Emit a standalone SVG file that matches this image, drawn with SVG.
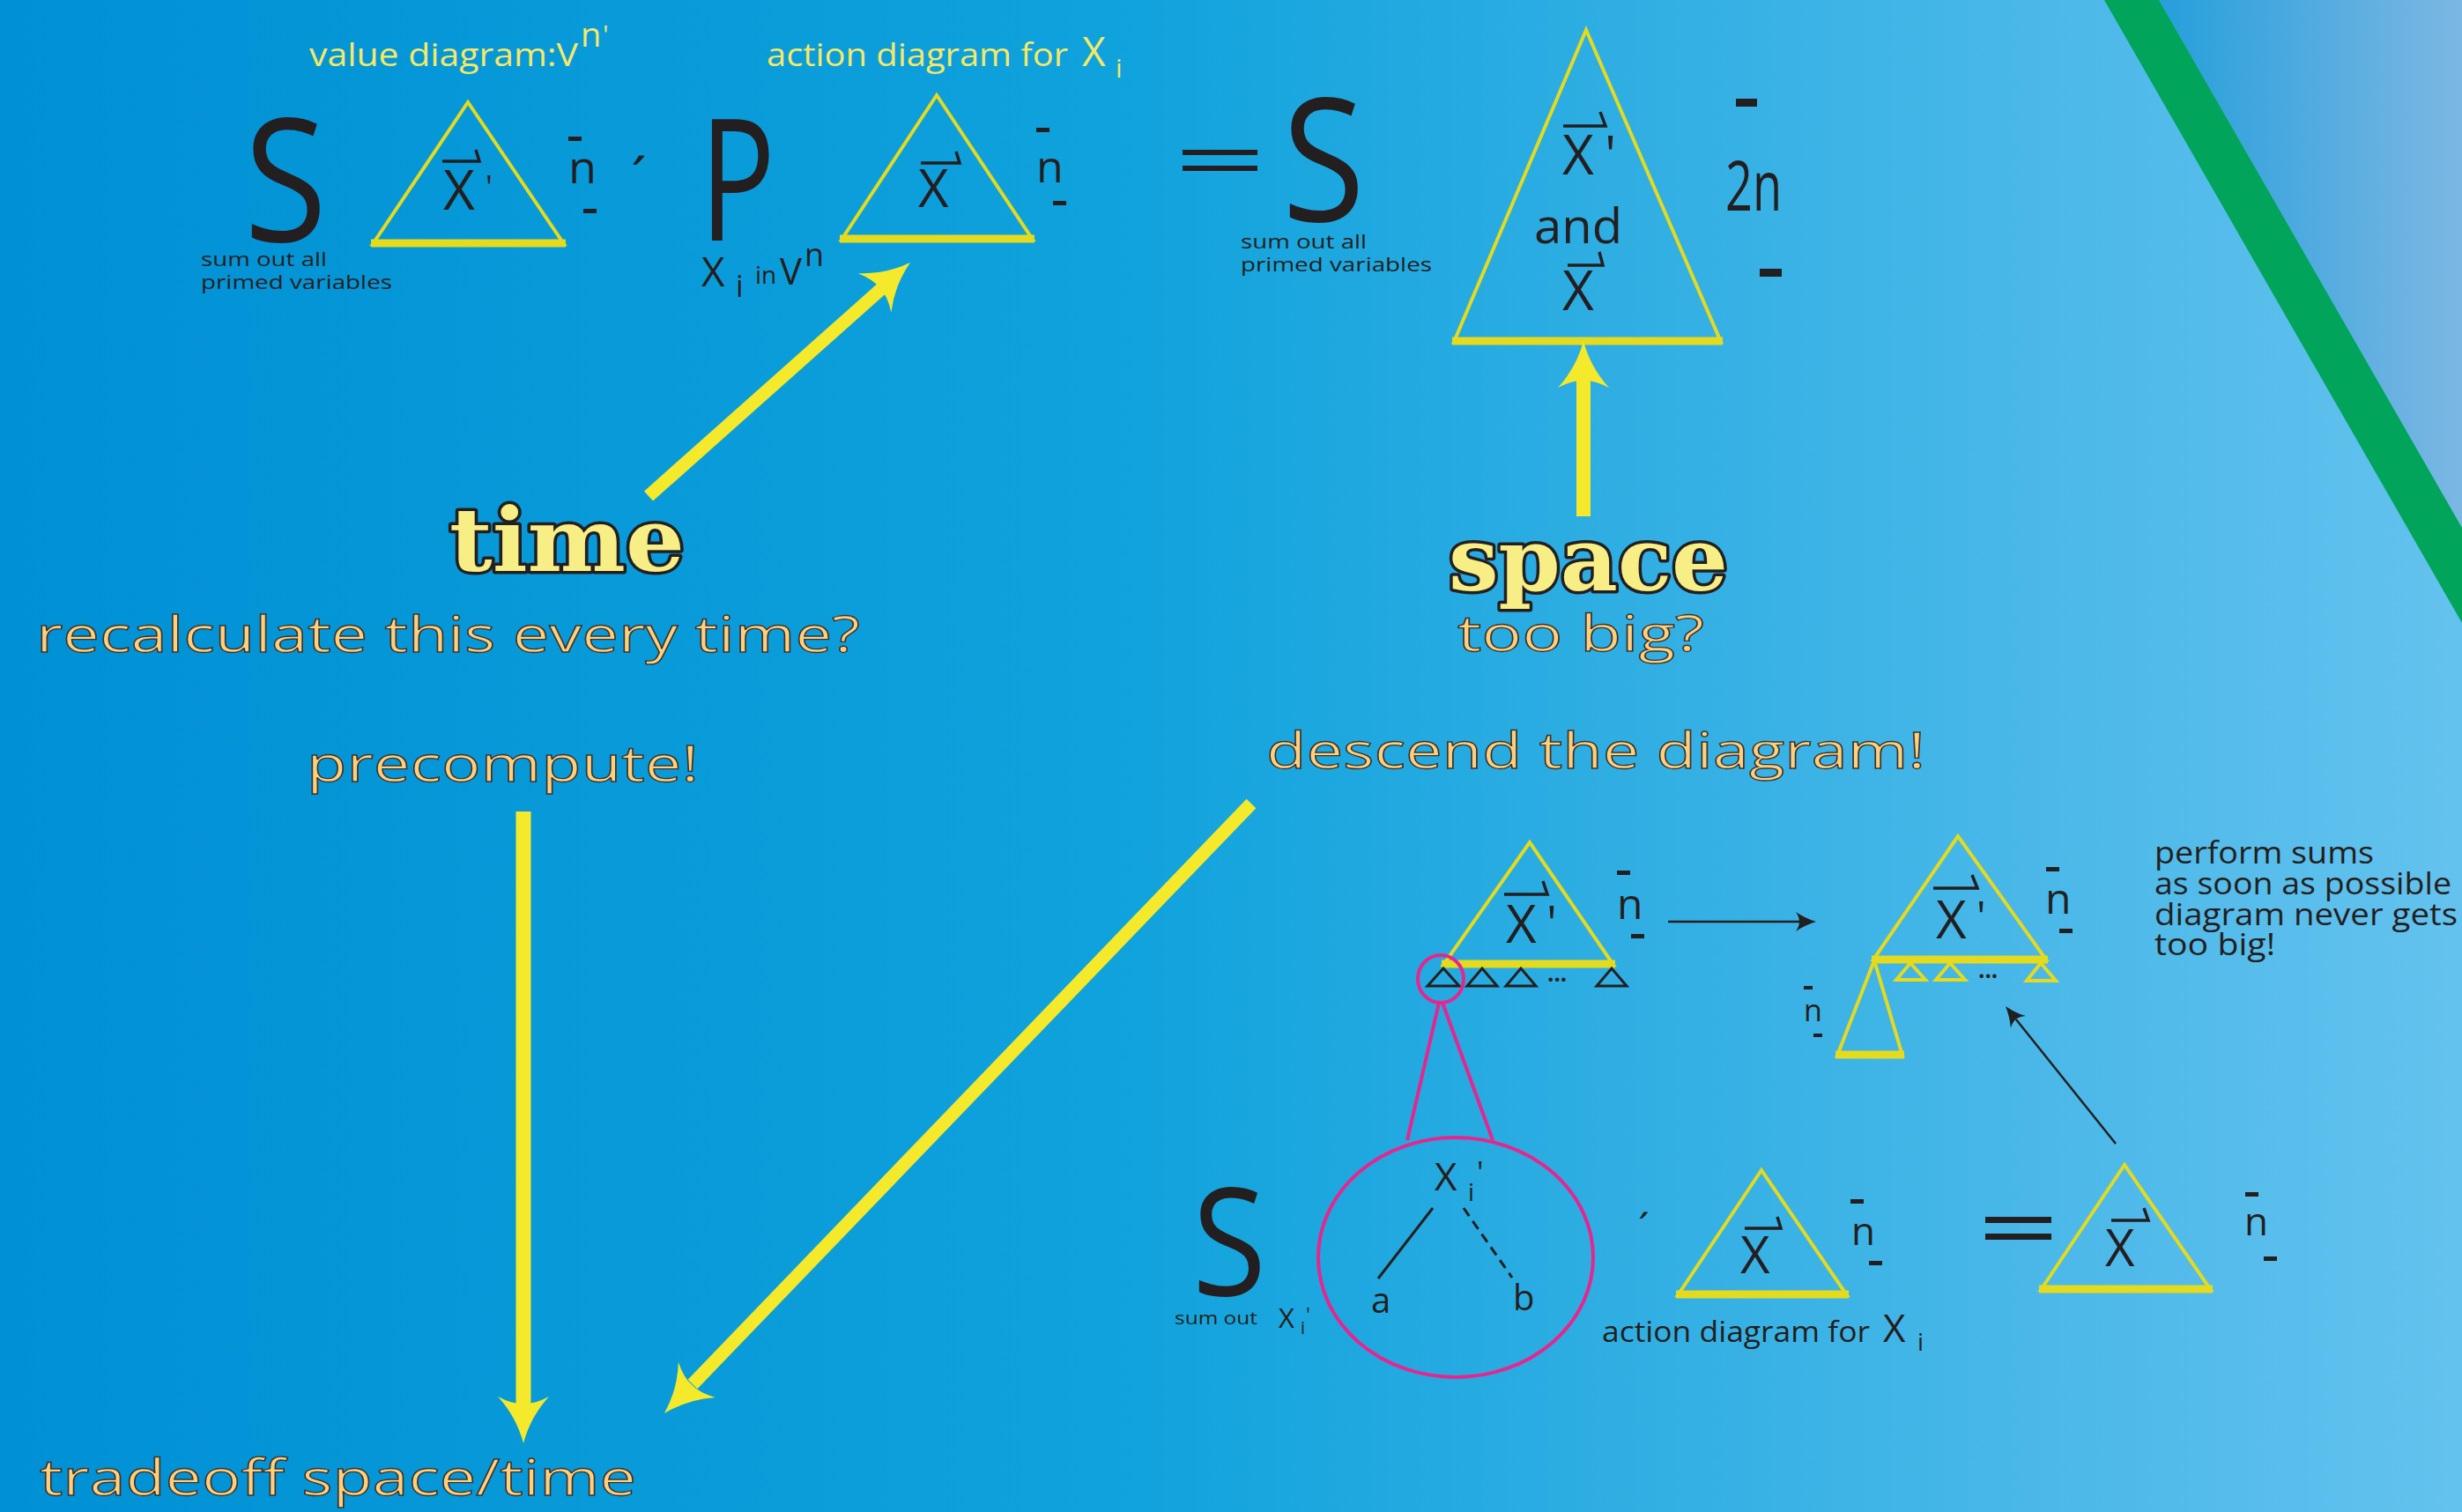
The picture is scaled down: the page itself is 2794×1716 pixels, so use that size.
<svg xmlns="http://www.w3.org/2000/svg" xmlns:xlink="http://www.w3.org/1999/xlink" width="2794" height="1716" viewBox="0 0 2794 1716">
<defs>
<linearGradient id="bg" x1="0" y1="0" x2="2794" y2="0" gradientUnits="userSpaceOnUse">
<stop offset="0" stop-color="#0090d5"/>
<stop offset="0.45" stop-color="#0fa2dc"/>
<stop offset="1" stop-color="#64c2ee"/>
</linearGradient>
<linearGradient id="corner" x1="2450" y1="0" x2="2794" y2="0" gradientUnits="userSpaceOnUse">
<stop offset="0" stop-color="#259fdb"/>
<stop offset="1" stop-color="#7cb7e3"/>
</linearGradient>
<path id="yhead" d="M0 0 Q-30 -8 -53 -29 Q-44 -12 -45 0 Q-44 12 -53 29 Q-30 8 0 0 Z"/>
<path id="khead" d="M0 0 Q-13 -4 -23 -11 Q-19 -5 -19 0 Q-19 5 -23 11 Q-13 4 0 0 Z"/>
<style>
text{font-family:"Open Sans","Noto Sans","Liberation Sans",sans-serif}
.yl{fill:#f6e866}
.dk{fill:#231f20}
.or{fill:#fdd07c;stroke:#3b3330;stroke-width:1.3}
.big{font-family:"DejaVu Serif","Liberation Serif",serif;font-weight:bold;fill:#f7ee86;stroke:#231f20;stroke-width:7;paint-order:stroke;stroke-linejoin:round}
.tri{fill:none;stroke:#e4da1e;stroke-width:4;stroke-linejoin:miter}
.base{stroke:#e4da1e;stroke-width:9}
.stri{fill:none;stroke:#e4da1e;stroke-width:4}
.ktri{fill:none;stroke:#231f20;stroke-width:3}
.vec{fill:none;stroke:#231f20;stroke-width:3.5}
.bar{fill:#231f20}
.mag{fill:none;stroke:#e8258e;stroke-width:4}
.ya{fill:none;stroke:#f4e92a;stroke-linecap:butt}
.yh{fill:#f4e92a}
.kl{fill:none;stroke:#231f20;stroke-width:2.5}
.kh{fill:#231f20}
</style>
</defs>

<g id="background">
<rect x="0" y="0" width="2794" height="1716" fill="url(#bg)"/>
<polygon points="2450,0 2794,0 2794,599" fill="url(#corner)"/>
<polygon points="2388,0 2450,0 2794,599 2794,707" fill="#00a45a"/>
</g>

<g id="top-labels">
<text class="yl" x="351" y="75" font-size="36" textLength="305" lengthAdjust="spacingAndGlyphs">value diagram:V</text>
<text class="yl" x="659" y="53" font-size="38">n</text>
<text class="yl" x="684" y="50" font-size="30">'</text>
<text class="yl" x="870" y="75" font-size="36" textLength="342" lengthAdjust="spacingAndGlyphs">action diagram for</text>
<text class="yl" x="1228" y="75" font-size="46">X</text>
<text class="yl" x="1266" y="88" font-size="30">i</text>
</g>

<g id="sum1">
<text class="dk" x="277" y="274" font-size="195" textLength="94" lengthAdjust="spacingAndGlyphs">S</text>
<text class="dk" x="228" y="302" font-size="22" textLength="143" lengthAdjust="spacingAndGlyphs">sum out all</text>
<text class="dk" x="228" y="328" font-size="22" textLength="217" lengthAdjust="spacingAndGlyphs">primed variables</text>
</g>

<g id="value-diagram">
<polygon class="tri" points="531,116 423,277 640,277"/>
<line class="base" x1="421" y1="276" x2="642" y2="276"/>
<path class="vec" d="M502 183 H544 L540 170"/>
<text class="dk" x="503" y="238" font-size="62">X</text>
<text class="dk" x="551" y="225" font-size="36">'</text>
<rect class="bar" x="645" y="155" width="15" height="5"/>
<text class="dk" x="645" y="208" font-size="52">n</text>
<rect class="bar" x="662" y="237" width="15" height="5"/>
</g>

<text class="dk" x="716" y="226" font-size="64">´</text>

<g id="product">
<text class="dk" x="794" y="273" font-size="192" textLength="86" lengthAdjust="spacingAndGlyphs">P</text>
<text class="dk" x="796" y="325" font-size="46">X</text>
<text class="dk" x="835" y="337" font-size="34">i</text>
<text class="dk" x="857" y="322" font-size="28">in</text>
<text class="dk" x="885" y="323" font-size="42">V</text>
<text class="dk" x="913" y="302" font-size="36">n</text>
</g>

<g id="action-diagram">
<polygon class="tri" points="1063,108 955,272 1172,272"/>
<line class="base" x1="953" y1="271" x2="1174" y2="271"/>
<path class="vec" d="M1045 185 H1089 L1085 172"/>
<text class="dk" x="1042" y="235" font-size="60">X</text>
<rect class="bar" x="1176" y="145" width="15" height="5"/>
<text class="dk" x="1176" y="207" font-size="50">n</text>
<rect class="bar" x="1195" y="228" width="15" height="5"/>
</g>

<g id="equals1">
<rect class="bar" x="1342" y="170" width="85" height="6"/>
<rect class="bar" x="1342" y="188" width="85" height="6"/>
</g>

<g id="sum2">
<text class="dk" x="1455" y="251" font-size="195" textLength="94" lengthAdjust="spacingAndGlyphs">S</text>
<text class="dk" x="1408" y="282" font-size="22" textLength="143" lengthAdjust="spacingAndGlyphs">sum out all</text>
<text class="dk" x="1408" y="308" font-size="22" textLength="217" lengthAdjust="spacingAndGlyphs">primed variables</text>
</g>

<g id="joint-diagram">
<polygon class="tri" points="1800,34 1650,388 1953,388"/>
<line class="base" x1="1648" y1="387" x2="1955" y2="387"/>
<path class="vec" d="M1774 143 H1822 L1816 127"/>
<text class="dk" x="1773" y="198" font-size="62">X</text>
<text class="dk" x="1821" y="197" font-size="60">'</text>
<text class="dk" x="1741" y="276" font-size="54" textLength="100" lengthAdjust="spacingAndGlyphs">and</text>
<path class="vec" d="M1779 301 H1819 L1815 286"/>
<text class="dk" x="1773" y="352" font-size="62">X</text>
<rect class="bar" x="1970" y="112" width="24" height="9"/>
<text class="dk" x="1958" y="239" font-size="78" textLength="64" lengthAdjust="spacingAndGlyphs">2n</text>
<rect class="bar" x="1997" y="305" width="25" height="9"/>
</g>

<g id="time-label">
<text class="big" x="510" y="648" font-size="100" textLength="267" lengthAdjust="spacingAndGlyphs">time</text>
<text class="or" x="41" y="740" font-size="56" textLength="935" lengthAdjust="spacingAndGlyphs">recalculate this every time?</text>
</g>

<g id="precompute-label">
<text class="or" x="348" y="887" font-size="56" textLength="445" lengthAdjust="spacingAndGlyphs">precompute!</text>
</g>

<g id="space-label">
<text class="big" x="1644" y="670" font-size="100" textLength="317" lengthAdjust="spacingAndGlyphs">space</text>
<text class="or" x="1654" y="739" font-size="56" textLength="280" lengthAdjust="spacingAndGlyphs">too big?</text>
</g>

<g id="descend-label">
<text class="or" x="1437" y="872" font-size="56" textLength="748" lengthAdjust="spacingAndGlyphs">descend the diagram!</text>
</g>

<g id="tradeoff-label">
<text class="or" x="45" y="1697" font-size="56" textLength="677" lengthAdjust="spacingAndGlyphs">tradeoff space/time</text>
</g>

<g id="diagram-a">
<polygon class="tri" points="1736,956 1638,1095 1831,1095"/>
<line class="base" x1="1636" y1="1094" x2="1833" y2="1094"/>
<path class="vec" d="M1707 1015 H1756 L1751 1000"/>
<text class="dk" x="1709" y="1070" font-size="60">X</text>
<text class="dk" x="1755" y="1067" font-size="54">'</text>
<rect class="bar" x="1835" y="988" width="15" height="5"/>
<text class="dk" x="1835" y="1043" font-size="48">n</text>
<rect class="bar" x="1851" y="1060" width="15" height="5"/>
<polygon class="ktri" points="1620,1119 1656,1119 1638,1099"/>
<polygon class="ktri" points="1665,1119 1699,1119 1682,1099"/>
<polygon class="ktri" points="1709,1119 1743,1119 1726,1099"/>
<text class="dk" x="1756" y="1114" font-size="26" font-weight="bold">...</text>
<polygon class="ktri" points="1812,1119 1846,1119 1829,1099"/>
<ellipse class="mag" cx="1635" cy="1111" rx="26" ry="27"/>
</g>

<g id="diagram-d">
<polygon class="tri" points="2222,949 2126,1089 2322,1089"/>
<line class="base" x1="2124" y1="1089" x2="2324" y2="1089"/>
<polygon class="tri" points="2127,1090 2085,1198 2159,1198"/>
<line class="base" x1="2083" y1="1197" x2="2161" y2="1197"/>
<polygon class="stri" points="2152,1112 2185,1112 2168,1093"/>
<polygon class="stri" points="2197,1112 2230,1112 2213,1093"/>
<text class="dk" x="2245" y="1110" font-size="26" font-weight="bold">...</text>
<polygon class="stri" points="2300,1113 2333,1113 2316,1093"/>
<path class="vec" d="M2194 1008 H2244 L2238 993"/>
<text class="dk" x="2197" y="1065" font-size="60">X</text>
<text class="dk" x="2243" y="1057" font-size="48">'</text>
<rect class="bar" x="2322" y="984" width="15" height="5"/>
<text class="dk" x="2321" y="1037" font-size="48">n</text>
<rect class="bar" x="2337" y="1054" width="15" height="5"/>
<rect class="bar" x="2047" y="1119" width="10" height="4"/>
<text class="dk" x="2047" y="1159" font-size="34">n</text>
<rect class="bar" x="2058" y="1173" width="10" height="4"/>
</g>

<g id="note">
<text class="dk" x="2445" y="980" font-size="34" textLength="249" lengthAdjust="spacingAndGlyphs">perform sums</text>
<text class="dk" x="2445" y="1015" font-size="34" textLength="337" lengthAdjust="spacingAndGlyphs">as soon as possible</text>
<text class="dk" x="2445" y="1050" font-size="34" textLength="344" lengthAdjust="spacingAndGlyphs">diagram never gets</text>
<text class="dk" x="2445" y="1084" font-size="34" textLength="137" lengthAdjust="spacingAndGlyphs">too big!</text>
</g>

<g id="sum3">
<text class="dk" x="1353" y="1470" font-size="170" textLength="84" lengthAdjust="spacingAndGlyphs">S</text>
<text class="dk" x="1333" y="1503" font-size="20" textLength="94" lengthAdjust="spacingAndGlyphs">sum out</text>
<text class="dk" x="1451" y="1507" font-size="31">X</text>
<text class="dk" x="1476" y="1514" font-size="20">i</text>
<text class="dk" x="1482" y="1500" font-size="22">'</text>
</g>

<g id="zoom-ellipse">
<ellipse class="mag" cx="1652" cy="1427" rx="156" ry="136"/>
<text class="dk" x="1628" y="1351" font-size="44">X</text>
<text class="dk" x="1666" y="1363" font-size="28">i</text>
<text class="dk" x="1676" y="1343" font-size="34">'</text>
<line x1="1626" y1="1371" x2="1564" y2="1451" stroke="#231f20" stroke-width="3"/>
<line x1="1661" y1="1371" x2="1716" y2="1450" stroke="#231f20" stroke-width="3" stroke-dasharray="11 7"/>
<text class="dk" x="1556" y="1490" font-size="40">a</text>
<text class="dk" x="1717" y="1487" font-size="40">b</text>
</g>

<text class="dk" x="1859" y="1411" font-size="46">´</text>

<g id="diagram-b">
<polygon class="tri" points="1999,1328 1904,1470 2096,1470"/>
<line class="base" x1="1902" y1="1469" x2="2098" y2="1469"/>
<path class="vec" d="M1980 1394 H2021 L2017 1381"/>
<text class="dk" x="1975" y="1445" font-size="58">X</text>
<rect class="bar" x="2100" y="1361" width="15" height="5"/>
<text class="dk" x="2101" y="1413" font-size="44">n</text>
<rect class="bar" x="2121" y="1431" width="15" height="5"/>
<text class="dk" x="1818" y="1523" font-size="32" textLength="304" lengthAdjust="spacingAndGlyphs">action diagram for</text>
<text class="dk" x="2137" y="1523" font-size="44">X</text>
<text class="dk" x="2176" y="1533" font-size="28">i</text>
</g>

<g id="equals2">
<rect class="bar" x="2253" y="1381" width="75" height="7"/>
<rect class="bar" x="2253" y="1400" width="75" height="7"/>
</g>

<g id="diagram-c">
<polygon class="tri" points="2411,1322 2316,1464 2509,1464"/>
<line class="base" x1="2314" y1="1463" x2="2511" y2="1463"/>
<path class="vec" d="M2396 1385 H2438 L2433 1371"/>
<text class="dk" x="2389" y="1437" font-size="58">X</text>
<rect class="bar" x="2548" y="1353" width="15" height="5"/>
<text class="dk" x="2547" y="1402" font-size="44">n</text>
<rect class="bar" x="2569" y="1426" width="15" height="5"/>
</g>

<g id="connectors">
<line class="ya" x1="736" y1="563" x2="1000" y2="328" stroke-width="15"/>
<use href="#yhead" class="yh" transform="translate(1033,298) rotate(-40.3)"/>
<line class="ya" x1="1797" y1="586" x2="1797" y2="430" stroke-width="16"/>
<use href="#yhead" class="yh" transform="translate(1797,387) rotate(-90)"/>
<line class="ya" x1="594" y1="921" x2="594" y2="1594" stroke-width="17"/>
<use href="#yhead" class="yh" transform="translate(594,1638) rotate(90)"/>
<line class="ya" x1="1420" y1="912" x2="786" y2="1571" stroke-width="15"/>
<use href="#yhead" class="yh" transform="translate(754,1604) rotate(133.9)"/>
<line class="mag" x1="1633" y1="1138" x2="1597" y2="1294"/>
<line class="mag" x1="1637" y1="1138" x2="1694" y2="1294"/>
<line class="kl" x1="1893" y1="1046" x2="2044" y2="1046"/>
<use href="#khead" class="kh" transform="translate(2061,1046)"/>
<line class="kl" x1="2401" y1="1298" x2="2288" y2="1157"/>
<use href="#khead" class="kh" transform="translate(2276,1142) rotate(-128.7)"/>
</g>
</svg>
